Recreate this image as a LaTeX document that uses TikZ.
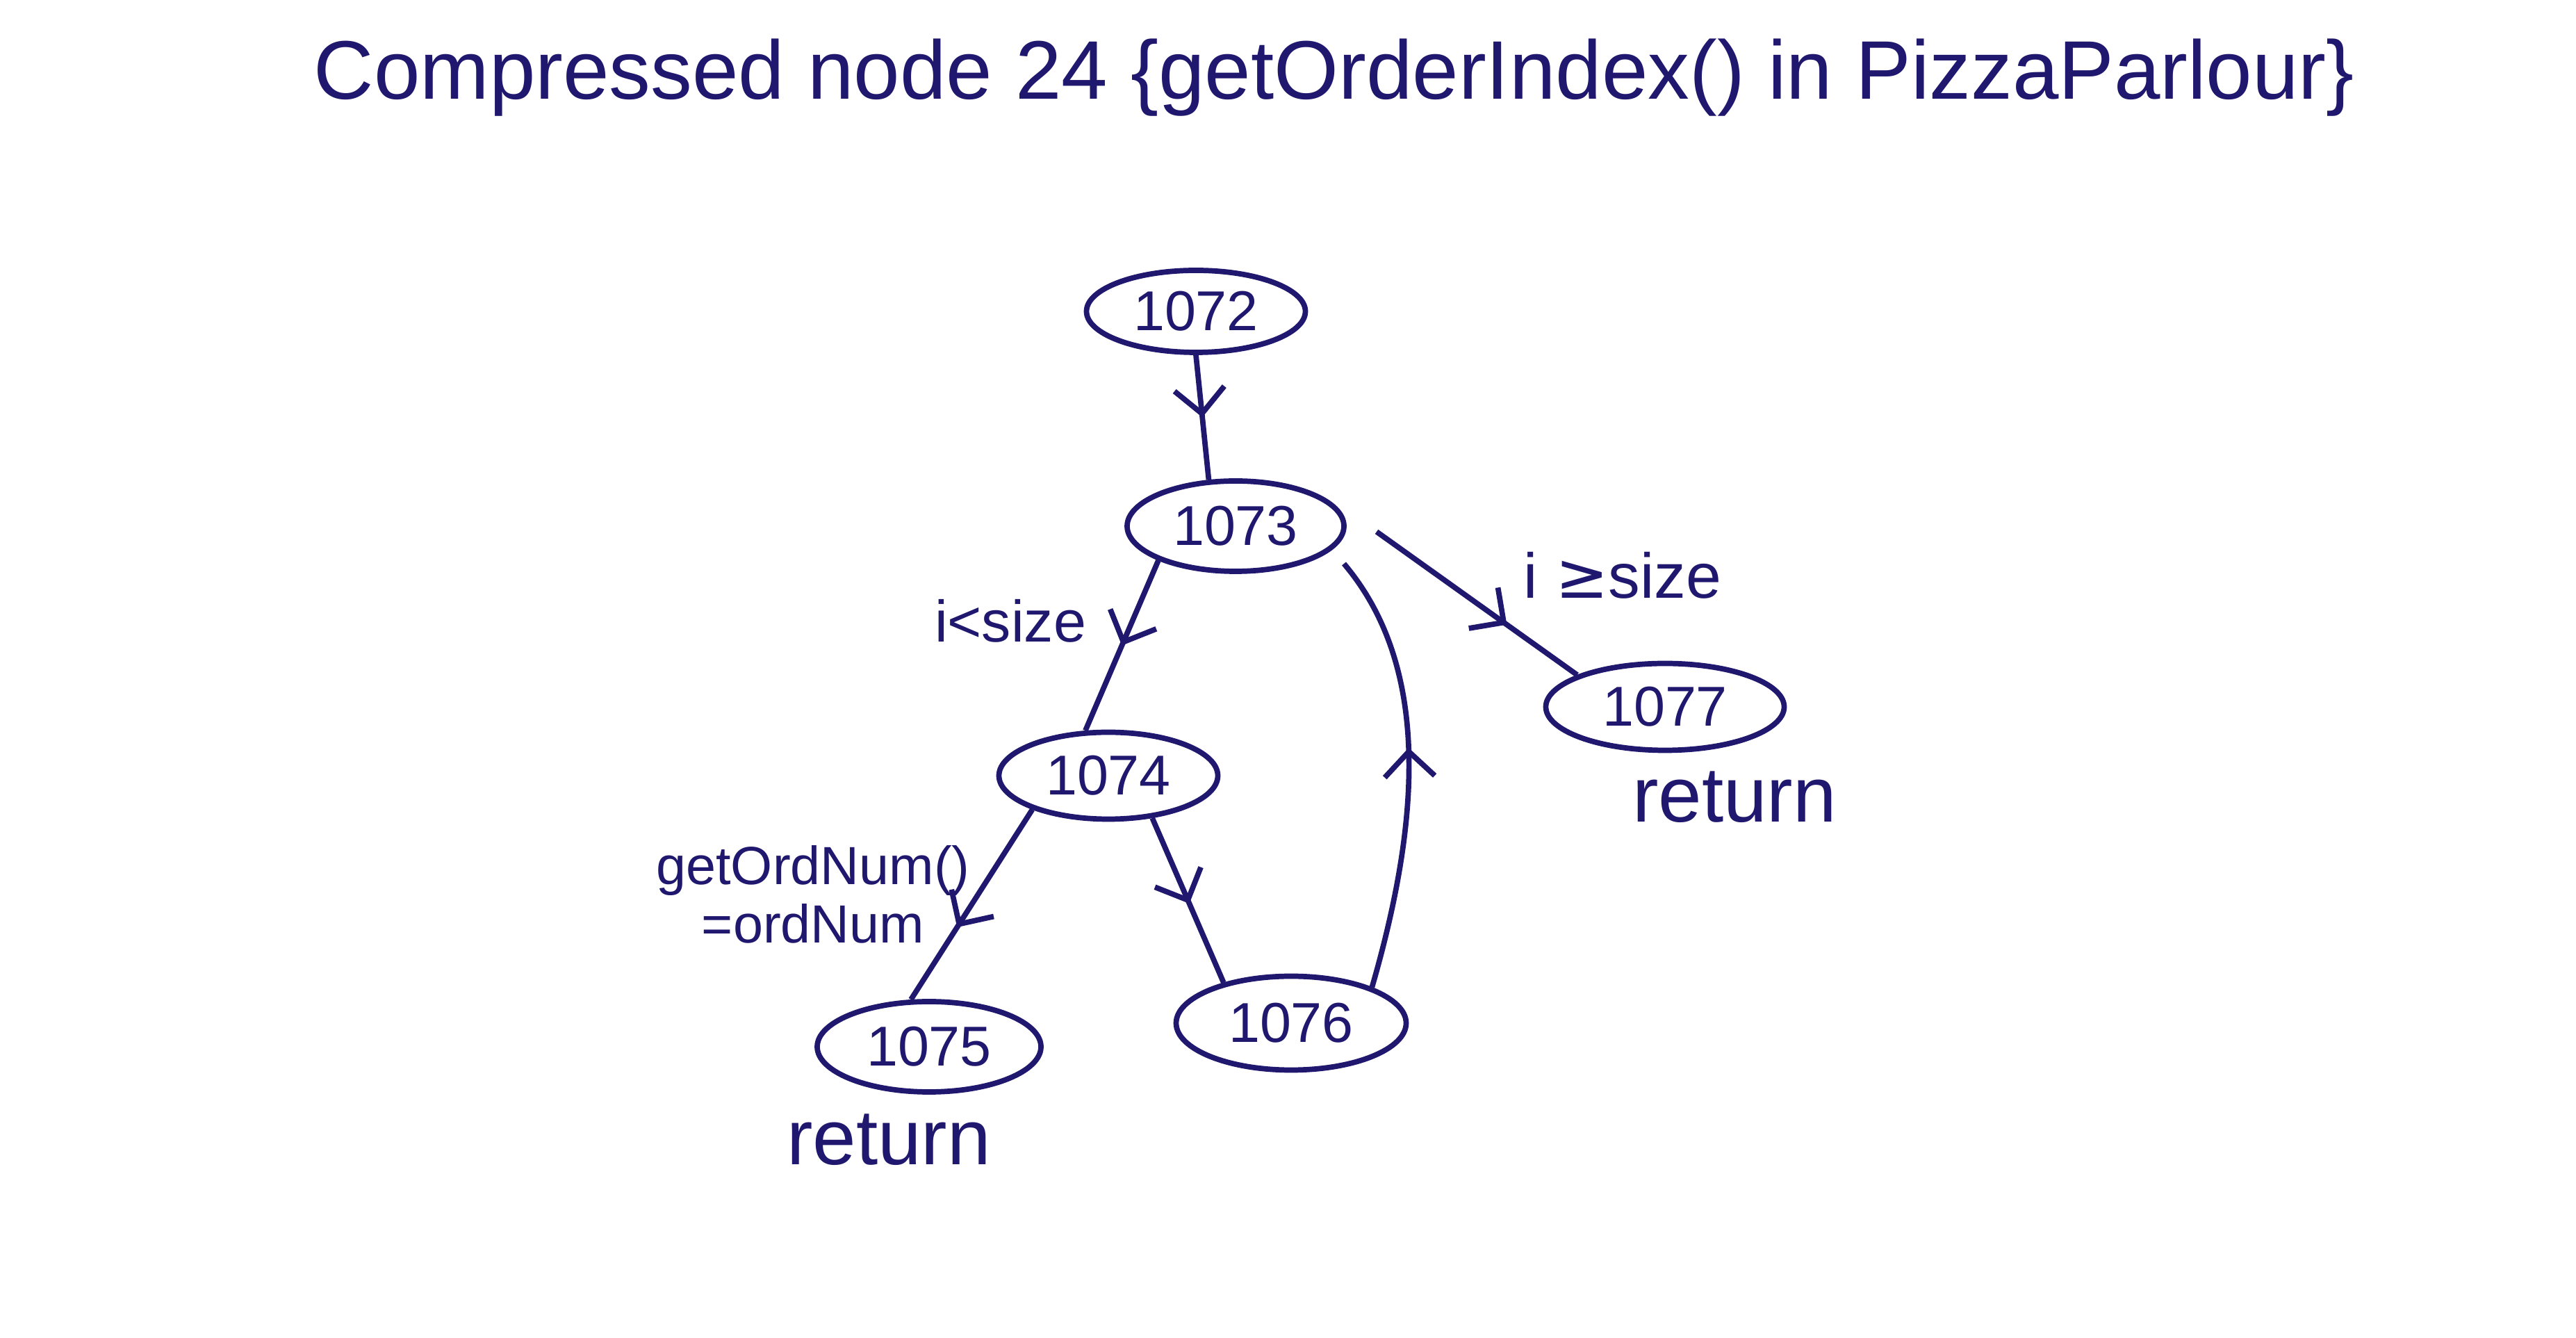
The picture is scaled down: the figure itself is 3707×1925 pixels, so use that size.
\documentclass[tikz,border=0pt]{standalone}
\usepackage{fontspec}
\setmainfont{Liberation Sans}
\newfontfamily\symfont{DejaVu Sans}
\usetikzlibrary{shapes.geometric,arrows.meta,decorations.markings,calc}
\definecolor{ink}{RGB}{32,24,110}
\begin{document}
\begin{tikzpicture}[x=0.05mm,y=-0.05mm,
  every node/.style={text=ink},
  state/.style={ellipse,draw=ink,line width=1.1pt,inner sep=0pt,font=\fontsize{11.5}{13}\selectfont},
  flow/.style={draw=ink,line width=1.1pt},
  midarrow/.style={postaction={decorate},decoration={markings,mark=at position #1 with {\arrow[ink,line width=1.1pt]{Straight Barb[length=1.8mm,width=3.6mm]}}}},
  midarrow/.default=0.5,
  lbl/.style={font=\fontsize{12}{14}\selectfont},
  retlbl/.style={font=\fontsize{16}{18}\selectfont}]
\fill[white] (0,0) rectangle (3707,1925);
\useasboundingbox (0,0) rectangle (3707,1925);

\node[font=\fontsize{17}{20}\selectfont] (title) at (1920,112) {Compressed node 24 \{getOrderIndex() in PizzaParlour\}};

\node[state,minimum width=15.75mm,minimum height=5.9mm] (n1072) at (1721,448) {1072};
\node[state,minimum width=15.6mm,minimum height=6.5mm] (n1073) at (1778,757) {1073};
\node[state,minimum width=15.75mm,minimum height=6.25mm] (n1074) at (1595,1116) {1074};
\node[state,minimum width=16.1mm,minimum height=6.5mm] (n1075) at (1337,1506) {1075};
\node[state,minimum width=16.55mm,minimum height=6.75mm] (n1076) at (1858,1472) {1076};
\node[state,minimum width=17.15mm,minimum height=6.25mm] (n1077) at (2396,1017) {1077};

\node[lbl] (lt) at (1454,893) {i<size};
\node[lbl,font=\fontsize{13}{15}\selectfont] (ge) at (2335,828) {i {\symfont ≥}size};
\node[lbl,font=\fontsize{11}{12}\selectfont,align=center] (ord) at (1170,1287) {getOrdNum()\\=ordNum};
\node[retlbl] (ret1) at (2496,1147) {return};
\node[retlbl] (ret2) at (1279,1640) {return};

\coordinate (c77) at ($(n1073)+(203,8)$);
\coordinate (cback) at ($(n1073)+(156,54)$);

\draw[flow,midarrow=0.5] (n1072.-90) -- (n1073.120);
\draw[flow,midarrow=0.5] (n1073.204) -- (n1074.117);
\draw[flow,midarrow=0.65] (c77) -- (n1077.160);
\draw[flow,midarrow=0.62] (n1074.204) -- (n1075.111);
\draw[flow,midarrow=0.52] (n1074.316) -- (n1076.149);
\draw[flow,midarrow=0.55] (n1076.24) .. controls +(69,-238) and +(126,149) .. (cback);
\end{tikzpicture}
\end{document}
